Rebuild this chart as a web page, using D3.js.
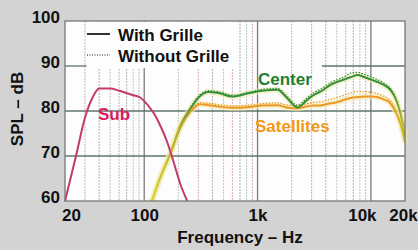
<!DOCTYPE html>
<html>
<head>
<meta charset="utf-8">
<script src="https://cdn.jsdelivr.net/npm/d3@7"></script>
<style>
  body { margin: 0; background: #d3d3d3; }
  svg { display: block; }
  text { font-family: "Liberation Sans", Arial, sans-serif; font-weight: bold; }
</style>
</head>
<body>
<svg width="418" height="250"></svg>
<script>
// --- data ---
var xTicks = [20, 100, 1000, 10000, 20000];
var xTickLabels = ["20", "100", "1k", "10k", "20k"];
var yTicks = [60, 70, 80, 90, 100];
var gridFreqs = [30, 40, 50, 60, 70, 80, 90, 100, 200, 300, 400, 500, 600, 700, 800, 900, 1000,
                 2000, 3000, 4000, 5000, 6000, 7000, 8000, 9000, 10000];

var subFreq = [20, 25, 30, 35, 40, 50, 60, 80, 92, 110, 125, 140, 160, 180, 210, 240];
var subSpl  = [60, 70, 78.5, 83, 85, 85, 84.5, 83.5, 83, 81, 79, 76.5, 73, 69, 63.5, 60];

var csFreq = [117, 140, 170, 210, 255, 310, 370, 450, 600, 850, 1100, 1500, 1800, 2250, 2700,
              3100, 3700, 4400, 5100, 5800, 6600, 7700, 8600, 10000, 11300, 13000, 14500, 16000,
              17500, 19000, 20000];
var centerSpl = [60, 65.5, 70.5, 77, 80.5, 83.3, 84.2, 84, 83.2, 84, 84.5, 84.7, 83, 80.8, 82.3,
                 83.5, 84.5, 85.8, 86.5, 87, 87.5, 88, 87.6, 87, 86.5, 85.8, 85, 83.5,
                 81, 77.5, 74.5];
var centerNoGrille = [60, 65.5, 70.5, 77, 80.8, 83.6, 84.5, 84.3, 83.5, 84.2, 84.8, 85, 83.4, 81.3, 82.8,
                 84, 85, 86.3, 87, 87.6, 88.4, 88.6, 88.2, 87.6, 87, 86.2, 85.3, 83.8,
                 81.5, 78, 75];
var satSpl = [60, 65.5, 70.5, 76.5, 79.8, 81.5, 81.3, 81, 80.7, 80.9, 81.2, 81.3, 80.8, 80.6, 81,
              81.2, 81.3, 81.7, 82, 82.5, 82.9, 83.1, 83.2, 83.2, 83.1, 82.6, 82, 80.5,
              78.4, 75.5, 73];
var satNoGrille = [60, 65.5, 70.5, 76.5, 80, 81.8, 81.7, 81.4, 81.1, 81.3, 81.6, 81.8, 81.3, 81.2, 81.6,
              81.9, 82.1, 82.6, 83, 83.5, 84, 84.3, 84.3, 84.2, 83.9, 83.3, 82.6, 81,
              78.8, 76, 73.5];

// horizontal grid lines, as [dB, from Hz, to Hz] (the 90 dB one is broken in the scan)
var hGrid = [[70, 20, 20000], [80, 20, 20000], [90, 20, 31], [90, 3700, 20000]];

var svg = d3.select("svg");
var pl = 65, pr = 405, pt = 21, pb = 201;

var x = d3.scaleLog().domain([20, 20000]).range([pl, pr]);
var y = d3.scaleLinear().domain([60, 100]).range([pb, pt]);

// plot area
svg.append("rect")
   .attr("x", pl).attr("y", pt)
   .attr("width", pr - pl).attr("height", pb - pt)
   .attr("fill", "#fdfdfd");

// vertical grid
var decades = [100, 1000, 10000];
svg.append("g").selectAll("line")
   .data(gridFreqs)
   .join("line")
   .attr("x1", d => x(d)).attr("x2", d => x(d))
   .attr("y1", pt).attr("y2", pb)
   .attr("stroke", (d, i) => decades.includes(d) ? "#7a7a7a" : (i % 3 == 0 ? "#d0aebd" : i % 3 == 1 ? "#b4b0b0" : "#bccbb8"))
   .attr("stroke-width", d => decades.includes(d) ? 1.3 : 1)
   .attr("stroke-dasharray", d => decades.includes(d) ? null : "2,1");

// horizontal grid
svg.append("g").selectAll("line")
   .data(hGrid)
   .join("line")
   .attr("x1", d => x(d[1])).attr("x2", d => x(d[2]))
   .attr("y1", d => y(d[0])).attr("y2", d => y(d[0]))
   .attr("stroke", "#5e7468")
   .attr("stroke-width", 1.3);

// legend box
svg.append("rect")
   .attr("x", 88).attr("y", pt + 1)
   .attr("width", 150).attr("height", 46)
   .attr("fill", "#fdfdfd");
svg.append("line")
   .attr("x1", 87).attr("x2", 110).attr("y1", 34).attr("y2", 34)
   .attr("stroke", "#333").attr("stroke-width", 2);
svg.append("line")
   .attr("x1", 87).attr("x2", 110).attr("y1", 55).attr("y2", 55)
   .attr("stroke", "#888").attr("stroke-width", 2).attr("stroke-dasharray", "1,1.5");
svg.append("text").attr("x", 118).attr("y", 41).attr("font-size", 17).attr("fill", "#111").text("With Grille");
svg.append("text").attr("x", 118).attr("y", 62).attr("font-size", 17).attr("fill", "#111").text("Without Grille");

// gradients for the mid/high curves (yellow at the ends)
var defs = svg.append("defs");
function grad(id, mid) {
  var g = defs.append("linearGradient").attr("id", id)
     .attr("gradientUnits", "userSpaceOnUse")
     .attr("x1", x(117)).attr("x2", x(20000)).attr("y1", 0).attr("y2", 0);
  var span = x(20000) - x(117);
  [[0, "#d8d428"], [(x(200) - x(117)) / span, "#b8b030"], [(x(280) - x(117)) / span, mid],
   [(x(15000) - x(117)) / span, mid], [1, "#c8c020"]].forEach(function(s) {
    g.append("stop").attr("offset", s[0]).attr("stop-color", s[1]);
  });
}
grad("gCenter", "#32903a");
grad("gSat", "#ea9a22");

var line = d3.line()
   .x(d => x(d[0]))
   .y(d => y(d[1]))
   .curve(d3.curveMonotoneX);

function zip(f, v) { return f.map((d, i) => [d, v[i]]); }

// soft glow under the curves
[centerSpl, satSpl].forEach(function(v) {
  svg.append("path").attr("d", line(zip(csFreq, v)))
     .attr("fill", "none").attr("stroke", "#f4eab0").attr("stroke-width", 6).attr("opacity", 0.6);
});

svg.append("path").attr("d", line(zip(csFreq, satNoGrille)))
   .attr("fill", "none").attr("stroke", "url(#gSat)").attr("stroke-width", 1.3)
   .attr("stroke-dasharray", "1.5,1.5");
svg.append("path").attr("d", line(zip(csFreq, satSpl)))
   .attr("fill", "none").attr("stroke", "url(#gSat)").attr("stroke-width", 2);
svg.append("path").attr("d", line(zip(csFreq, centerNoGrille)))
   .attr("fill", "none").attr("stroke", "url(#gCenter)").attr("stroke-width", 1.3)
   .attr("stroke-dasharray", "1.5,1.5");
svg.append("path").attr("d", line(zip(csFreq, centerSpl)))
   .attr("fill", "none").attr("stroke", "url(#gCenter)").attr("stroke-width", 2);

svg.append("path").attr("d", line(zip(subFreq, subSpl)))
   .attr("fill", "none").attr("stroke", "#c23a6c").attr("stroke-width", 2);

// series labels
svg.append("text").attr("x", 98).attr("y", 120).attr("font-size", 17).attr("fill", "#d81b5c").text("Sub");
svg.append("text").attr("x", 258).attr("y", 85).attr("font-size", 17).attr("fill", "#1f7f30").text("Center");
svg.append("text").attr("x", 255).attr("y", 132).attr("font-size", 17).attr("fill", "#f29818").text("Satellites");

// frame
svg.append("rect")
   .attr("x", pl).attr("y", pt)
   .attr("width", pr - pl).attr("height", pb - pt)
   .attr("fill", "none").attr("stroke", "#777").attr("stroke-width", 1.3);

// axes
var xAxis = d3.axisBottom(x)
   .tickValues(xTicks)
   .tickFormat((d, i) => xTickLabels[i])
   .tickSize(0).tickPadding(8);
var gx = svg.append("g").attr("transform", "translate(0," + pb + ")").call(xAxis);
gx.select(".domain").remove();
gx.selectAll("text")
  .attr("font-size", 17).attr("fill", "#111")
  .attr("dx", d => d == 20 ? 6 : d == 10000 ? -9 : d == 20000 ? -2 : 0);

var yAxis = d3.axisLeft(y).tickValues(yTicks).tickSize(0).tickPadding(4);
var gy = svg.append("g").attr("transform", "translate(" + (pl - 1) + ",0)").call(yAxis);
gy.select(".domain").remove();
gy.selectAll("text").attr("font-size", 17).attr("fill", "#111").attr("dy", "0.1em");

svg.append("text")
   .attr("x", 240).attr("y", 243)
   .attr("text-anchor", "middle").attr("font-size", 17).attr("fill", "#111")
   .text("Frequency – Hz");
svg.append("text")
   .attr("transform", "translate(23,109) rotate(-90)")
   .attr("text-anchor", "middle").attr("font-size", 17).attr("fill", "#111")
   .text("SPL – dB");
</script>
</body>
</html>
